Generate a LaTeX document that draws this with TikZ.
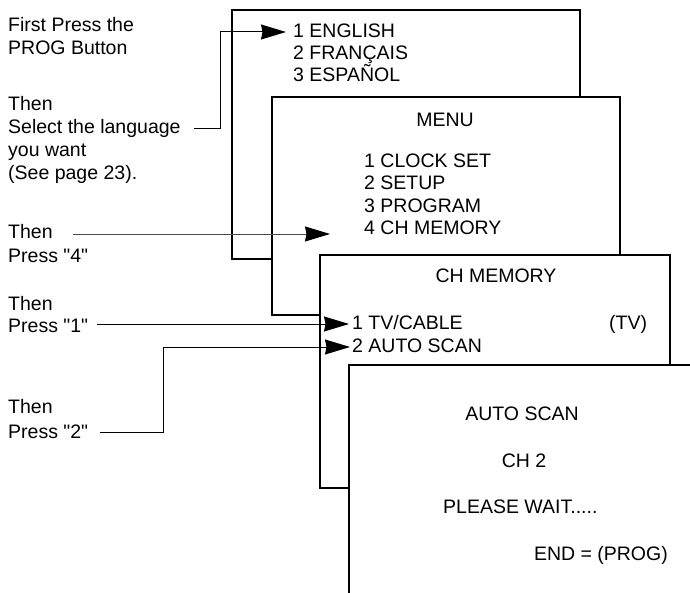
\documentclass[tikz,border=0pt]{standalone}
\usepackage{fontspec}
\setmainfont{Liberation Sans}[Ligatures=TeXOff]
\usetikzlibrary{arrows.meta,calc}
\begin{document}
\begin{tikzpicture}[x=1pt,y=-1pt,
  txt/.style={anchor=base west, inner sep=0pt, font=\fontsize{19.5}{23}\selectfont},
  ctxt/.style={anchor=base, inner sep=0pt, font=\fontsize{19.5}{23}\selectfont},
  rtxt/.style={anchor=base east, inner sep=0pt, font=\fontsize{19.5}{23}\selectfont},
  screen/.style={draw=black, fill=white, line width=1.2pt, inner sep=0pt, outer sep=0pt, anchor=north west},
  conn/.style={line width=1pt},
  faint/.style={line width=0.8pt, draw=black!70},
  tip/.style={-{Stealth[length=25pt,width=15pt,inset=1.5pt,color=black]}}
]
\useasboundingbox[fill=white] (0,0) rectangle (690,593);

% screens
\node[screen, minimum width=348pt, minimum height=249pt] (s1) at (232,10) {};
\node[screen, minimum width=348pt, minimum height=218pt] (s2) at (272,97) {};
\node[screen, minimum width=350pt, minimum height=233pt] (s3) at (320,255) {};
\fill[white] (349,365) rectangle (690,593);
\draw[line width=1.2pt] (349,593) -- (349,365) -- (690,365);

% left instructions
\node[txt] (t1) at (8,32) {First Press the};
\node[txt] (t2) at (8,55) {PROG Button};
\node[txt] (t3) at (8,111) {Then};
\node[txt] (t4) at (8,134) {Select the language};
\node[txt] (t5) at (8,157) {you want};
\node[txt] (t6) at (8,180) {(See page 23).};
\node[txt] (t7) at (8,239) {Then};
\node[txt] (t8) at (8,263) {Press "4"};
\node[txt] (t9) at (8,310) {Then};
\node[txt] (t10) at (8,332) {Press "1"};
\node[txt] (t11) at (8,413) {Then};
\node[txt] (t12) at (8,438) {Press "2"};

% screen 1
\node[txt] (en) at (293,38) {1 ENGLISH};
\node[txt] (fr) at (293,60) {2 FRANÇAIS};
\node[txt] (es) at (293,82) {3 ESPAÑOL};

% screen 2
\node[ctxt] (menu) at (445,127) {MENU};
\node[txt] (m1) at (364,168) {1 CLOCK SET};
\node[txt] (m2) at (364,190) {2 SETUP};
\node[txt] (m3) at (364,213) {3 PROGRAM};
\node[txt] (m4) at (364,235) {4 CH MEMORY};

% screen 3
\node[ctxt] (chm) at (496,283) {CH MEMORY};
\node[txt] (tv) at (352,330) {1 TV/CABLE};
\node[txt] (tvv) at (609,330) {(TV)};
\node[txt] (as) at (352,352) {2 AUTO SCAN};

% screen 4
\node[ctxt] (ast) at (522,420) {AUTO SCAN};
\node[ctxt] (ch2) at (524,467) {CH 2};
\node[txt] (pw) at (443,513) {PLEASE WAIT.....};
\node[rtxt] (endp) at (668,560) {END = (PROG)};

% connectors
\draw[conn,tip] ([xshift=13pt,yshift=5pt]t4.base east)
  -| ([xshift=-73pt,yshift=6pt]en.base west)
  -- ([xshift=-7pt,yshift=6pt]en.base west);
\draw[faint,tip] ([xshift=20pt,yshift=5pt]t7.base east)
  -- ([xshift=-34pt,yshift=1pt]m4.base west);
\draw[conn,tip] ([xshift=9pt,yshift=8pt]t10.base east)
  -- ([xshift=-3pt,yshift=6pt]tv.base west);
\draw[conn,tip] ([xshift=12pt,yshift=6pt]t12.base east)
  -| ([xshift=-189pt,yshift=5pt]as.base west)
  -- ([xshift=-2pt,yshift=5pt]as.base west);
\end{tikzpicture}
\end{document}
